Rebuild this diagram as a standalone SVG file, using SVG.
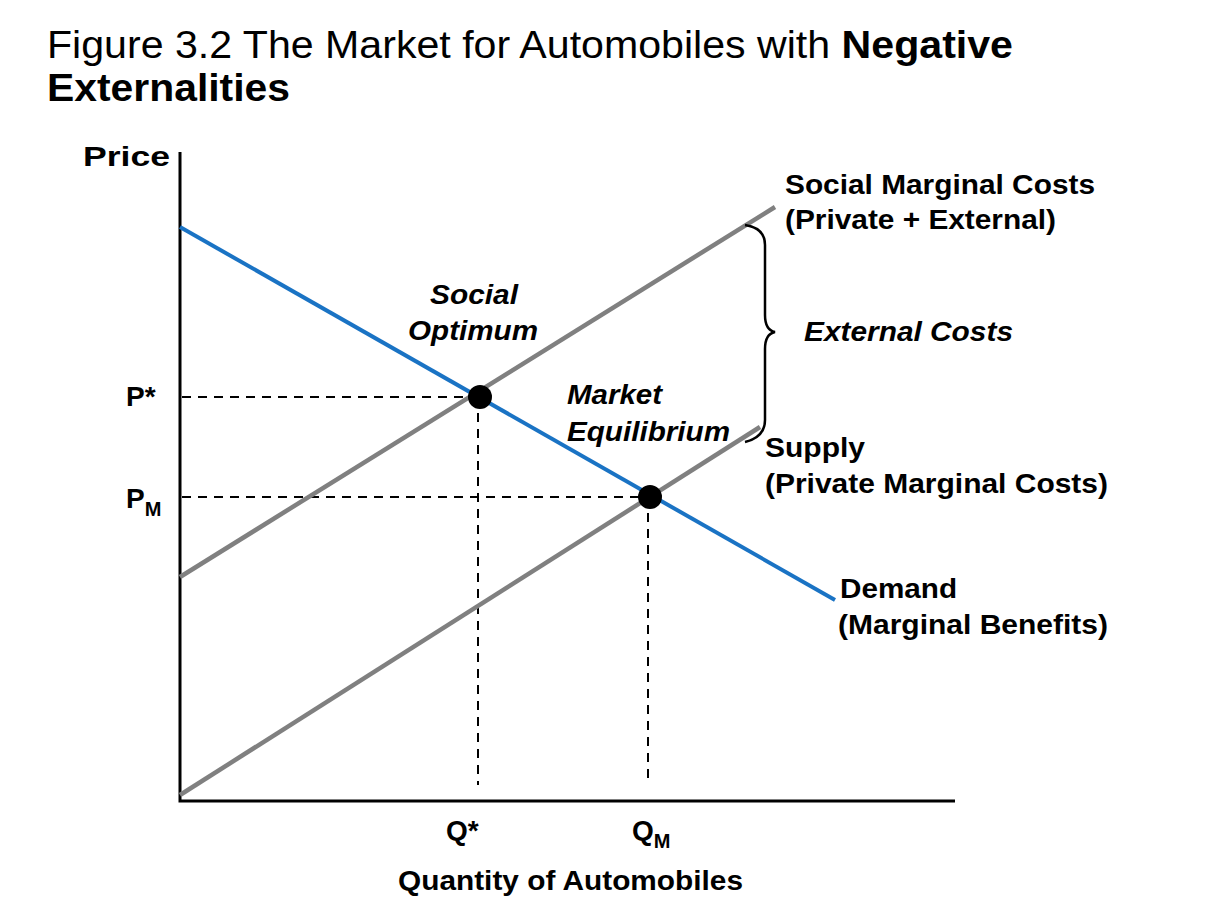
<svg xmlns="http://www.w3.org/2000/svg" width="1232" height="922" viewBox="0 0 1232 922">
<style>
text{font-family:"Liberation Sans",Arial,sans-serif;fill:#000}
.b{font-weight:bold;font-size:28px}
.bi{font-weight:bold;font-style:italic;font-size:28px}
.d{stroke:#000;stroke-width:2;stroke-dasharray:9,7;fill:none}
.g{stroke:#808080;stroke-width:4.5;fill:none}
</style>
<rect width="1232" height="922" fill="#fff"/>
<text x="47" y="58" font-size="38" textLength="966" lengthAdjust="spacingAndGlyphs">Figure 3.2 The Market for Automobiles with <tspan font-weight="bold">Negative</tspan></text>
<text x="47" y="101" font-size="38" font-weight="bold" textLength="243" lengthAdjust="spacingAndGlyphs">Externalities</text>
<g id="axes" stroke="#000" stroke-width="3" fill="none">
<path d="M180 152V801H955"/>
</g>
<g id="connectors">
<path class="d" d="M182 397H480M478 397V785M182 497H650M648 497V785"/>
<path id="smc" class="g" d="M180 577L775 207"/>
<path id="supply" class="g" d="M180 795L760 427"/>
<path id="demand" d="M180 227L835 600" stroke="#1a73c4" stroke-width="4" fill="none"/>
<path id="brace" d="M745 225Q765 228 765 245V315Q765 330 775 332Q765 334 765 349V420Q765 437 745 442" stroke="#000" stroke-width="2.5" fill="none"/>
</g>
<g id="points" fill="#000">
<circle cx="480" cy="397" r="12"/>
<circle cx="650" cy="497" r="12"/>
</g>
<g id="labels">
<text class="b" x="83" y="166" textLength="87" lengthAdjust="spacingAndGlyphs">Price</text>
<text class="b" x="126" y="406">P*</text>
<text class="b" x="126" y="508">P<tspan font-size="20" dy="8">M</tspan></text>
<text class="b" x="446" y="840">Q*</text>
<text class="b" x="632" y="840">Q<tspan font-size="20" dy="8">M</tspan></text>
<text class="b" x="398" y="890" textLength="345" lengthAdjust="spacingAndGlyphs">Quantity of Automobiles</text>
<text class="bi" x="430" y="304" textLength="88" lengthAdjust="spacingAndGlyphs">Social</text>
<text class="bi" x="408" y="340" textLength="130" lengthAdjust="spacingAndGlyphs">Optimum</text>
<text class="bi" x="567" y="404" textLength="95" lengthAdjust="spacingAndGlyphs">Market</text>
<text class="bi" x="567" y="441" textLength="163" lengthAdjust="spacingAndGlyphs">Equilibrium</text>
<text class="bi" x="804" y="341" textLength="209" lengthAdjust="spacingAndGlyphs">External Costs</text>
<text class="b" x="785" y="194" textLength="310" lengthAdjust="spacingAndGlyphs">Social Marginal Costs</text>
<text class="b" x="785" y="229" textLength="271" lengthAdjust="spacingAndGlyphs">(Private + External)</text>
<text class="b" x="765" y="457" textLength="100" lengthAdjust="spacingAndGlyphs">Supply</text>
<text class="b" x="765" y="493" textLength="343" lengthAdjust="spacingAndGlyphs">(Private Marginal Costs)</text>
<text class="b" x="840" y="598" textLength="117" lengthAdjust="spacingAndGlyphs">Demand</text>
<text class="b" x="838" y="634" textLength="270" lengthAdjust="spacingAndGlyphs">(Marginal Benefits)</text>
</g>
</svg>
